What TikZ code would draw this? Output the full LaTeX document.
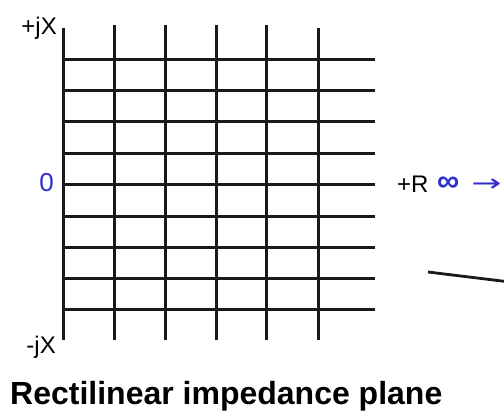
\documentclass[tikz,border=0pt]{standalone}
\usepackage{fontspec}
\setmainfont{Liberation Sans}
\newfontfamily\arrowfont{DejaVu Sans}
\usepackage{graphicx}
\usepackage{tikz}
\usetikzlibrary{positioning}
\definecolor{axisBlue}{HTML}{2E2ECC}
\definecolor{gridInk}{HTML}{1A1A1A}

\begin{document}
\begin{tikzpicture}[x=1pt, y=-1pt, every node/.style={font=\fontsize{24}{26}\selectfont, inner sep=0pt}]
        \useasboundingbox (0,0) rectangle (504,416);
        \clip (0,0) rectangle (504,416);
        % Resistance lines (vertical)
        \draw[gridInk, line width=3pt] (63,28) -- (63,340);
        \foreach \gx in {114,165,216,266}
          \draw[gridInk, line width=3pt] (\gx,25) -- (\gx,340);
        \draw[gridInk, line width=3pt] (318,28) -- (318,340);
        % Reactance lines (horizontal)
        \foreach \gy in {59,90,121,153,184,216,247,278,309}
          \draw[gridInk, line width=3pt] (63,\gy) -- (375,\gy);
        % Axis labels
        \node[anchor=east] (posjx) at (57,28) {+jX};
        \node[anchor=east] (negjx) at (56,347) {-jX};
        \node[anchor=east, color=axisBlue, font=\fontsize{26}{28}\selectfont] (zero) at (54,183) {0};
        \node[anchor=west] (posr) at (397,184) {+R};
        \node[anchor=west, color=axisBlue] (inf) at (437,184)
          {\textbf{\fontsize{31}{31}\selectfont ∞}\hspace{12pt}{\arrowfont\scalebox{1.5}[1]{→}}};
        % Cut-off curve at right edge
        \draw[gridInk, line width=2.8pt] (428,272) -- (510,282);
        \node[anchor=west, font=\fontsize{32}{34}\selectfont\bfseries] (title) at (10,396) {Rectilinear impedance plane};
      \end{tikzpicture}
\end{document}
